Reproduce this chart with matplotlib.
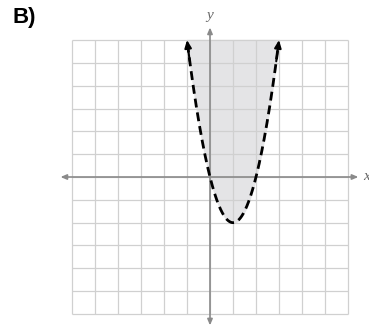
import matplotlib
matplotlib.use("Agg")
import matplotlib.pyplot as plt
import numpy as np

# y > 2x^2 - 4x, boundary dashed
a, b, c = 2, -4, 0
grid_min, grid_max = -6, 6
x_lo, x_hi = -1, 3
label = "B)"

fig = plt.figure(figsize=(3.69, 3.28), dpi=100)
ax = fig.add_axes([0, 0, 1, 1])
ax.set_xlim(-210 / 23, 159 / 23)
ax.set_ylim(-151 / 22.83, 177 / 22.83)
ax.axis("off")

# grid
ticks = np.arange(grid_min, grid_max + 1)
ax.vlines(ticks, grid_min, grid_max, color="#d0d0d0", lw=0.9, zorder=1)
ax.hlines(ticks, grid_min, grid_max, color="#d0d0d0", lw=0.9, zorder=1)

# shaded region
xs = np.linspace(x_lo, x_hi, 400)
ys = a * xs**2 + b * xs + c
ax.fill_between(xs, ys, grid_max, color="#e4e4e6", zorder=0.5)

# axes with arrows
axc = "#8a8a8a"
head = "-|>,head_length=0.35,head_width=0.15"
for tip, tail in [((6.45, 0), (0, 0)), ((-6.5, 0), (0, 0)),
                  ((0, 6.55), (0, 0)), ((0, -6.5), (0, 0))]:
    ax.annotate("", xy=tip, xytext=tail,
                arrowprops=dict(arrowstyle=head, color=axc, lw=1.2, shrinkA=0, shrinkB=0),
                zorder=2)
ax.text(6.65, 0, "x", fontsize=11, style="italic", family="Liberation Serif",
        color="#666666", ha="left", va="center")
ax.text(0, 6.8, "y", fontsize=11, style="italic", family="Liberation Serif",
        color="#666666", ha="center", va="bottom")

# boundary curve
xc = np.linspace(x_lo + 0.02, x_hi - 0.02, 400)
yc = a * xc**2 + b * xc + c
ax.plot(xc, yc, color="black", lw=2.0, ls=(0, (3.2, 1.8)), zorder=3)
for xe in (x_lo, x_hi):
    xp = xe + (0.12 if xe < 1 else -0.12)
    ax.annotate("", xy=(xe, a * xe**2 + b * xe + c), xytext=(xp, a * xp**2 + b * xp + c),
                arrowprops=dict(arrowstyle="-|>,head_length=0.45,head_width=0.2", color="black",
                                lw=1.5, shrinkA=0, shrinkB=0), zorder=4)

fig.text(12 / 369, 1 - 18 / 328, label, fontsize=16, fontweight="bold",
         family="Liberation Sans", ha="left", va="center")

fig.savefig("out.png", dpi=100)
